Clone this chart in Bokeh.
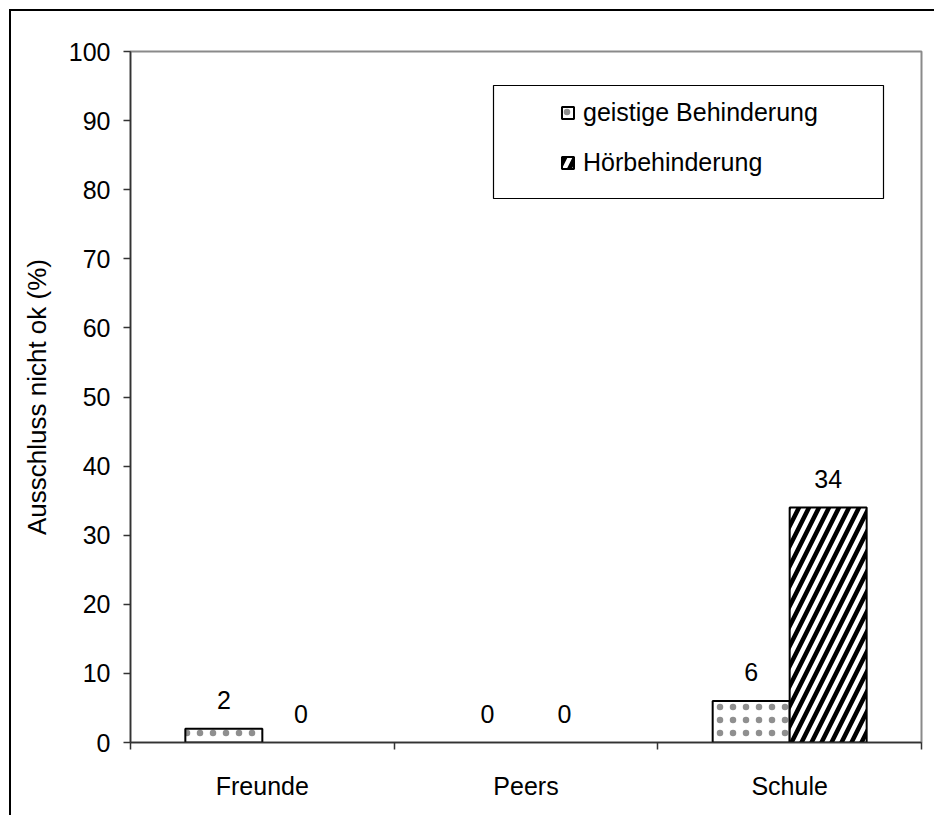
from bokeh.plotting import figure
from bokeh.models import (ColumnDataSource, Range1d, FixedTicker, SingleIntervalTicker,
                          LabelSet, Legend, LegendItem, BoxAnnotation)
from bokeh.core.properties import value
from bokeh.transform import dodge
from bokeh.embed import file_html
from bokeh.resources import INLINE

# ---- data ----
categories = ["Freunde", "Peers", "Schule"]
series_names = ["geistige Behinderung", "Hörbehinderung"]
geistige = [2, 0, 6]
hoerbeh = [0, 0, 34]
y_label = "Ausschluss nicht ok (%)"

# ---- layout constants (pixels) ----
W, H = 925, 806
ML, MR, MT, MB = 119, 15, 40, 75
FW = W - ML - MR
FH = H - MT - MB
FONT = "Liberation Sans"
FS = "25px"
BAR_W = 0.292

centers = [i + 0.5 for i in range(len(categories))]
src = ColumnDataSource(dict(
    xc=centers,
    g=geistige, h=hoerbeh,
    gt=[str(v) for v in geistige], ht=[str(v) for v in hoerbeh],
    ga=[1 if v > 0 else 0 for v in geistige], ha=[1 if v > 0 else 0 for v in hoerbeh],
))

p = figure(width=W, height=H, output_backend="svg", toolbar_location=None,
           x_range=Range1d(0, len(categories)), y_range=Range1d(0, 100),
           min_border_left=ML, min_border_right=MR, min_border_top=MT, min_border_bottom=MB)
p.styles = {"border-left": "2px solid black", "border-top": "2px solid black",
            "margin-left": "9px", "margin-top": "9px"}

p.xgrid.visible = False
p.ygrid.visible = False
p.outline_line_color = "#8a8a8a"
p.outline_line_width = 2
p.background_fill_color = "white"
p.border_fill_color = "white"

r1 = p.vbar(x=dodge("xc", -BAR_W / 2, range=p.x_range), top="g", width=BAR_W, bottom=0,
            source=src, fill_color="white", line_color="black", line_width=2, line_alpha="ga",
            hatch_pattern="dot", hatch_color="#333333", hatch_scale=13, hatch_weight=0.2,
            hatch_alpha=0.55)
r2 = p.vbar(x=dodge("xc", BAR_W / 2, range=p.x_range), top="h", width=BAR_W, bottom=0,
            source=src, fill_color="white", line_color="black", line_width=2, line_alpha="ha",
            hatch_pattern="right_diagonal_line", hatch_color="black", hatch_scale=20, hatch_weight=4.5)

for col, txt, off in (("g", "gt", -BAR_W / 2), ("h", "ht", BAR_W / 2)):
    ls = LabelSet(x=dodge("xc", off, range=p.x_range), y=col, text=txt, source=src,
                  y_offset=20, text_align="center", text_baseline="alphabetic",
                  text_font=value(FONT), text_font_size=value(FS), text_color="black")
    p.add_layout(ls)

# x axis: category labels at centres, ticks at boundaries
xa = p.xaxis[0]
xa.ticker = FixedTicker(ticks=centers, minor_ticks=list(range(len(categories) + 1)))
xa.major_label_overrides = {c: name for c, name in zip(centers, categories)}
xa.major_tick_out = 0
xa.major_tick_in = 0
xa.minor_tick_out = 7
xa.minor_tick_in = 0
xa.minor_tick_line_color = "#333333"
xa.minor_tick_line_width = 1.5
xa.axis_line_color = "#333333"
xa.axis_line_width = 1.5
xa.major_label_text_font = FONT
xa.major_label_text_font_size = FS
xa.major_label_text_color = "black"
xa.major_label_standoff = 22

ya = p.yaxis[0]
ya.ticker = SingleIntervalTicker(interval=10, num_minor_ticks=0)
ya.major_tick_out = 7
ya.major_tick_in = 0
ya.minor_tick_out = 0
ya.minor_tick_in = 0
ya.major_tick_line_color = "#333333"
ya.major_tick_line_width = 1.5
ya.axis_line_color = "#333333"
ya.axis_line_width = 1.5
ya.major_label_text_font = FONT
ya.major_label_text_font_size = FS
ya.major_label_text_color = "black"
ya.major_label_standoff = 13
ya.axis_label = y_label
ya.axis_label_text_font = FONT
ya.axis_label_text_font_size = "26px"
ya.axis_label_text_font_style = "normal"
ya.axis_label_text_color = "black"
ya.axis_label_standoff = 14

# legend box (pixel targets converted to data units)
def xd(px):
    return (px - 130) / FW * len(categories)

def yd(py):
    return (742 - py) / FH * 100

box = BoxAnnotation(left=xd(493), right=xd(883), top=yd(85), bottom=yd(198),
                    fill_color="white", fill_alpha=1, line_color="black", line_alpha=1,
                    line_width=1.2)
p.add_layout(box)

legend = Legend(items=[LegendItem(label=series_names[0], renderers=[r1], index=2),
                       LegendItem(label=series_names[1], renderers=[r2], index=2)],
                location=(430, 565), padding=0, spacing=20, glyph_width=15, glyph_height=15,
                label_standoff=8, label_height=30, label_text_font=FONT, label_text_font_size=FS,
                label_text_color="black", border_line_alpha=0, background_fill_alpha=0)
p.add_layout(legend, "center")

open("out.html", "w").write(file_html(p, INLINE))
